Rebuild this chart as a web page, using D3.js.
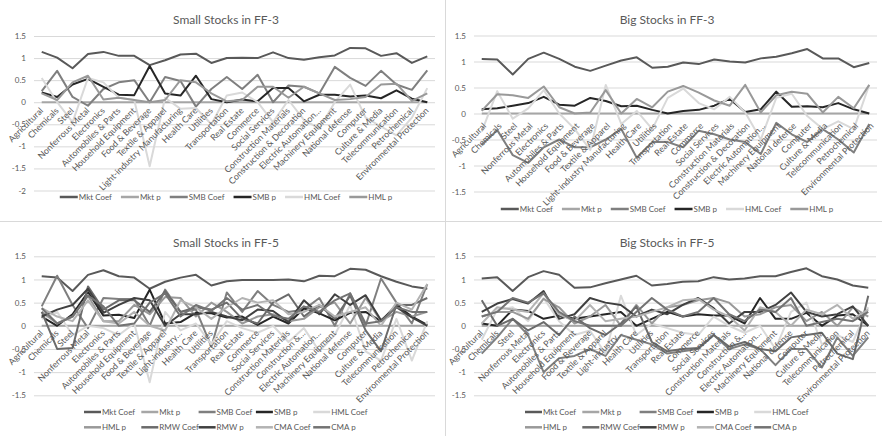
<!DOCTYPE html>
<html>
<head>
<meta charset="utf-8">
<script src="https://cdn.jsdelivr.net/npm/d3@7"></script>
<style>
  html, body { margin: 0; padding: 0; background: #fff; }
  svg { display: block; font-family: Lato, "Open Sans", sans-serif; }
</style>
</head>
<body>
<svg id="chart" width="882" height="436"></svg>
<script>
// ---------------- DATA ----------------
const categoriesFF3 = ["Agricultural","Chemicals","Steel","Nonferrous Metal","Electronics","Automobiles & Parts","Household Equipment","Food & Beverage","Textile & Apparel","Light-industry Manufacturing","Health Care","Utilities","Transportation","Real Estate","Commerce","Social Services","Construction Materials","Construction & Decoration","Electric Automation…","Machinery Equipment","National defense","Computer","Culture & Media","Telecommunication","Petrochemical","Environmental Protection"];
const categoriesFF5 = ["Agricultural","Chemicals","Steel","Nonferrous Metal","Electronics","Automobiles & Parts","Household Equipment","Food & Beverage","Textile & Apparel","Light-industry…","Health Care","Utilities","Transportation","Real Estate","Commerce","Social Services","Construction Materials","Construction &…","Electric Automation…","Machinery Equipment","National defense","Computer","Culture & Media","Telecommunication","Petrochemical","Environmental Protection"];

const seriesFF3 = ["Mkt Coef","Mkt p","SMB Coef","SMB p","HML Coef","HML p"];
const seriesFF5 = ["Mkt Coef","Mkt p","SMB Coef","SMB p","HML Coef","HML p","RMW Coef","RMW p","CMA Coef","CMA p"];

const ticksFF3Small = [-2,-1.5,-1,-0.5,0,0.5,1,1.5];
const ticksOther = [-1.5,-1,-0.5,0,0.5,1,1.5];

// Small stocks, FF-3
const s3_MktCoef = [1.14,1.01,0.77,1.09,1.14,1.05,1.05,0.84,0.95,1.08,1.10,0.89,1.00,1.01,1.00,1.13,1.00,0.96,1.02,1.06,1.23,1.22,1.05,1.11,0.89,1.04];
const s3_MktP    = [0,0,0,0,0,0,0,0,0,0,0,0,0,0,0,0,0,0,0,0,0,0,0,0,0,0];
const s3_SMBCoef = [0.25,0.71,0.12,-0.08,0.30,0.45,0.50,0.00,0.57,0.48,-0.10,0.30,0.57,0.30,0.62,0.00,0.38,0.35,0.20,0.80,0.55,0.37,0.71,0.40,0.28,0.72];
const s3_SMBP    = [0.22,0.12,0.40,0.53,0.35,0.17,0.16,0.82,0.20,0.15,0.60,0.07,0.00,0.06,0.02,0.32,0.32,0.02,0.17,0.17,0.13,0.15,0.09,0.27,0.08,0.00];
const s3_HMLCoef = [0.55,0.00,-0.45,0.55,0.45,0.10,0.05,-1.45,0.10,-0.15,-0.13,-0.50,0.15,0.22,0.00,-0.45,0.05,-0.40,-0.60,0.00,0.40,-0.35,-0.55,-0.75,-0.35,0.32];
const s3_HMLP    = [0.20,0.05,0.45,0.60,0.06,0.10,0.05,0.00,0.05,0.50,0.45,0.20,0.02,0.05,0.35,0.35,0.10,0.35,0.20,0.05,0.07,0.12,0.40,0.42,0.03,0.20];

// Big stocks, FF-3
const b3_MktCoef = [1.05,1.04,0.75,1.05,1.17,1.05,0.90,0.82,0.92,1.02,1.08,0.88,0.90,0.98,0.95,1.04,1.00,0.98,1.06,1.09,1.16,1.24,1.06,1.06,0.89,0.97];
const b3_MktP    = [0,0,0,0,0,0,0,0,0,0,0,0,0,0,0,0,0,0,0,0,0,0,0,0,0,0];
const b3_SMBCoef = [-0.60,-0.32,-0.80,-0.95,-0.65,-0.50,-0.65,-0.65,-0.50,-0.30,-0.85,-0.55,-0.55,-0.65,-0.33,-0.40,-0.50,-0.55,-0.78,-0.18,-0.40,-0.55,-0.30,-0.50,-0.75,-0.20];
const b3_SMBP    = [0.08,0.10,0.15,0.20,0.32,0.17,0.15,0.30,0.24,0.14,0.15,0.07,0.00,0.05,0.07,0.15,0.28,0.03,0.08,0.42,0.13,0.14,0.12,0.20,0.08,0.00];
const b3_HMLCoef = [-0.35,0.43,-0.10,0.10,0.45,0.00,-0.30,-0.70,0.55,-0.20,0.05,-0.30,0.30,0.48,0.20,0.08,0.32,0.02,-0.50,0.30,0.38,-0.05,-0.30,-0.15,-0.30,0.55];
const b3_HMLP    = [0.05,0.37,0.35,0.30,0.52,0.12,0.00,0.02,0.45,0.00,0.28,0.12,0.42,0.53,0.40,0.25,0.15,0.55,0.02,0.35,0.42,0.38,0.02,0.32,0.10,0.55];

// Small stocks, FF-5
const s5_MktCoef = [1.07,1.04,0.75,1.10,1.20,1.07,1.04,0.80,0.95,1.04,1.10,0.87,0.96,0.99,0.99,0.99,1.00,0.96,1.08,1.07,1.23,1.21,1.07,0.95,0.85,0.80];
const s5_MktP    = [0,0,0,0,0,0,0,0,0,0,0,0,0,0,0,0,0,0,0,0,0,0,0,0,0,0];
const s5_SMBCoef = [0.42,1.08,0.45,-0.05,0.60,0.58,0.58,0.00,0.78,0.30,0.35,-0.45,0.72,0.30,0.75,0.45,0.30,0.35,0.60,0.00,0.70,0.00,1.02,0.50,0.05,0.90];
const s5_SMBP    = [0.20,0.00,0.25,0.73,0.22,0.24,0.17,0.78,0.05,0.08,0.28,0.27,0.18,0.20,0.02,0.20,0.05,0.38,0.27,0.12,0.28,0.30,0.10,0.45,0.20,0.02];
const s5_HMLCoef = [0.15,0.30,-0.20,0.00,-0.05,-0.20,0.05,-1.22,0.30,-0.10,0.05,-0.40,0.10,-0.05,-0.15,0.00,-0.35,-0.05,-0.55,-0.20,0.45,-0.55,-0.75,0.15,-0.75,0.10];
const s5_HMLP    = [0.30,0.05,0.20,0.65,0.10,0.10,0.45,0.25,0.62,0.60,0.20,0.50,0.30,0.05,0.20,0.25,0.10,0.15,0.40,0.50,0.05,0.60,0.10,0.30,0.20,0.30];
const s5_RMWCoef = [0.30,-0.50,-0.48,0.85,0.35,0.55,0.55,0.30,0.75,0.30,0.40,0.35,0.50,0.15,0.05,0.50,0.68,0.20,0.45,0.15,0.65,-0.10,-0.55,0.45,0.45,0.60];
const s5_RMWP    = [0.20,0.35,0.45,0.80,0.28,0.45,0.60,0.55,0.00,0.25,0.25,0.30,0.20,0.12,0.35,0.32,0.08,0.55,0.25,0.68,0.45,0.66,0.12,0.40,0.18,0.00];
const s5_CMACoef = [0.38,0.20,0.10,0.55,0.10,0.05,0.30,0.00,-0.10,0.55,0.40,0.15,0.40,0.60,0.50,0.55,0.25,0.30,0.45,0.20,0.30,0.40,0.00,0.50,0.35,0.90];
const s5_CMAP    = [0.38,0.05,0.20,0.65,0.42,0.00,0.05,0.50,0.70,0.20,0.45,0.32,0.60,0.35,0.45,0.22,0.15,0.42,0.30,0.55,0.70,0.05,0.10,0.40,0.30,0.30];

// Big stocks, FF-5
const b5_MktCoef = [1.02,1.05,0.75,1.05,1.18,1.10,0.82,0.83,0.92,1.00,1.08,0.87,0.90,0.95,0.96,1.05,1.00,1.02,1.07,1.07,1.16,1.24,1.07,1.00,0.87,0.82];
const b5_MktP    = [0,0,0,0,0,0,0,0,0,0,0,0,0,0,0,0,0,0,0,0,0,0,0,0,0,0];
const b5_SMBCoef = [-0.60,-0.25,0.15,-0.20,-1.00,-0.70,-0.65,-0.50,-0.65,-0.20,-0.30,-0.40,-0.60,-0.55,-0.50,-0.20,-0.50,-0.40,-0.50,-0.85,-0.50,-0.50,-0.90,-0.25,-0.65,-0.25];
const b5_SMBP    = [0.05,0.00,0.35,0.32,0.15,0.22,0.15,0.20,0.25,0.30,0.00,0.15,0.30,0.20,0.25,0.22,0.22,0.05,0.60,0.15,0.15,0.28,0.00,0.22,0.25,0.00];
const b5_HMLCoef = [-0.30,0.35,0.40,0.10,0.60,0.10,-0.20,-0.10,-0.60,0.65,-0.20,0.05,-0.05,-0.15,-0.20,0.20,0.00,-0.15,0.00,-0.50,0.30,0.50,-0.40,-0.20,-0.35,0.40];
const b5_HMLP    = [0.20,0.30,0.30,0.15,0.58,0.40,0.05,0.20,0.45,0.00,0.45,0.05,0.40,0.45,0.55,0.60,0.50,0.20,0.25,0.40,0.45,0.10,0.30,0.00,0.40,0.20];
const b5_RMWCoef = [0.55,0.00,0.15,-0.10,0.08,-0.20,0.20,-0.05,-0.20,0.05,0.42,-0.35,-0.55,-0.50,-0.48,-0.20,-0.45,-0.35,-0.50,-0.55,-0.25,-0.20,-0.15,-0.60,-0.72,0.65];
const b5_RMWP    = [0.30,0.48,0.58,0.48,0.75,0.15,0.25,0.60,0.50,0.45,0.20,0.35,0.25,0.45,0.60,0.38,0.05,0.30,0.30,0.45,0.72,0.30,0.20,0.25,0.42,0.00];
const b5_CMACoef = [0.05,0.40,0.35,0.30,0.70,0.25,0.10,0.45,0.10,0.15,0.20,0.30,0.40,0.55,0.58,0.35,0.20,-0.10,0.40,0.30,0.00,0.35,0.25,0.45,0.15,0.35];
const b5_CMAP    = [0.20,0.30,0.60,0.50,0.70,0.30,0.10,0.00,0.00,0.00,0.30,0.60,0.35,0.20,0.30,0.60,0.25,0.10,0.35,0.30,0.60,0.00,0.08,0.15,0.10,0.30];

// ---------------- STYLE ----------------
const colorOf = {
  "Mkt Coef": "#595959", "Mkt p": "#a6a6a6", "SMB Coef": "#7f7f7f", "SMB p": "#262626",
  "HML Coef": "#d9d9d9", "HML p": "#999999", "RMW Coef": "#6b6b6b", "RMW p": "#404040",
  "CMA Coef": "#b3b3b3", "CMA p": "#737373"
};
const textColor = "#595959";
const gridColor = "#d9d9d9";
const FONT = "Lato, 'Open Sans', sans-serif";

const svg = d3.select("#chart");

// panel separators
svg.append("line").attr("x1", 445.5).attr("x2", 445.5).attr("y1", 0).attr("y2", 436)
   .attr("stroke", gridColor).attr("stroke-width", 1);
svg.append("line").attr("x1", 0).attr("x2", 882).attr("y1", 221.5).attr("y2", 221.5)
   .attr("stroke", gridColor).attr("stroke-width", 1);

const panels = [
  { title: "Small Stocks in FF-3", cats: categoriesFF3, names: seriesFF3, ticks: ticksFF3Small,
    data: [s3_MktCoef, s3_MktP, s3_SMBCoef, s3_SMBP, s3_HMLCoef, s3_HMLP],
    ox: 0, px0: 34, px1: 435, yTop: 36, yBot: 190.5, dom: [-2, 1.5], titleY: 24, legendY: 197, rows: 1, lblDx: 2, lblDy: 9 },
  { title: "Big Stocks in FF-3", cats: categoriesFF3, names: seriesFF3, ticks: ticksOther,
    data: [b3_MktCoef, b3_MktP, b3_SMBCoef, b3_SMBP, b3_HMLCoef, b3_HMLP],
    ox: 441, px0: 474, px1: 877, yTop: 35.5, yBot: 191.5, dom: [-1.5, 1.5], titleY: 24, legendY: 209, rows: 1, lblDx: 5, lblDy: 13 },
  { title: "Small Stocks in FF-5", cats: categoriesFF5, names: seriesFF5, ticks: ticksOther,
    data: [s5_MktCoef, s5_MktP, s5_SMBCoef, s5_SMBP, s5_HMLCoef, s5_HMLP, s5_RMWCoef, s5_RMWP, s5_CMACoef, s5_CMAP],
    ox: 0, px0: 34, px1: 435, yTop: 256.3, yBot: 395.3, dom: [-1.5, 1.5], titleY: 247, legendY: 412, rows: 2, lblDx: 2, lblDy: 8 },
  { title: "Big Stocks in FF-5", cats: categoriesFF5, names: seriesFF5, ticks: ticksOther,
    data: [b5_MktCoef, b5_MktP, b5_SMBCoef, b5_SMBP, b5_HMLCoef, b5_HMLP, b5_RMWCoef, b5_RMWP, b5_CMACoef, b5_CMAP],
    ox: 441, px0: 474, px1: 876, yTop: 256.3, yBot: 395.3, dom: [-1.5, 1.5], titleY: 247, legendY: 412, rows: 2, lblDx: 2, lblDy: 8 }
];

panels.forEach(p => {
  const g = svg.append("g");
  const x = d3.scaleBand().domain(p.cats).range([p.px0, p.px1]);
  const y = d3.scaleLinear().domain(p.dom).range([p.yBot, p.yTop]);
  const cx = c => x(c) + x.bandwidth() / 2;

  // title
  g.append("text").attr("x", p.ox + 226).attr("y", p.titleY).attr("text-anchor", "middle")
   .attr("font-size", 12).attr("fill", textColor).text(p.title);

  // gridlines + y labels
  const yAxis = g.append("g").attr("transform", `translate(${p.px0},0)`)
    .call(d3.axisLeft(y).tickValues(p.ticks).tickSize(-(p.px1 - p.px0)).tickPadding(8)
      .tickFormat(d => String(d)));
  yAxis.select(".domain").remove();
  yAxis.selectAll(".tick line").attr("stroke", gridColor).attr("stroke-width", 1);
  yAxis.selectAll(".tick text").attr("fill", textColor).attr("font-size", 8)
    .attr("font-family", FONT);

  // series lines
  const line = d3.line().x((d, i) => cx(p.cats[i])).y(d => y(d));
  p.names.forEach((name, k) => {
    g.append("path").datum(p.data[k]).attr("d", line).attr("fill", "none")
     .attr("stroke", colorOf[name]).attr("stroke-width", 2).attr("stroke-linejoin", "round");
  });

  // category labels
  const xAxis = g.append("g").attr("transform", `translate(0,${y(0)})`)
    .call(d3.axisBottom(x).tickSize(0));
  xAxis.select(".domain").remove();
  xAxis.selectAll(".tick text")
    .attr("fill", textColor).attr("font-size", 8.8).attr("font-family", FONT)
    .attr("text-anchor", "end").attr("x", 0).attr("y", 0).attr("dy", 0)
    .attr("transform", `translate(${p.lblDx},${p.lblDy}) rotate(-45)`);

  // legend
  const lg = g.append("g");
  if (p.rows === 1) {
    const lineLen = 18, gap = 9;
    let cur = 0;
    p.names.forEach(name => {
      const it = lg.append("g");
      it.append("line").attr("x1", 0).attr("x2", lineLen).attr("y1", 0).attr("y2", 0)
        .attr("stroke", colorOf[name]).attr("stroke-width", 2.5);
      const t = it.append("text").attr("x", lineLen + 1).attr("y", 3).attr("font-size", 8)
        .attr("fill", textColor).text(name);
      const w = lineLen + 1 + t.node().getComputedTextLength();
      it.attr("transform", `translate(${cur},${p.legendY})`);
      cur += w + gap;
    });
    const total = cur - gap;
    lg.attr("transform", `translate(${p.ox + 226 - total / 2},0)`);
  } else {
    const colW = 57.3;
    p.names.forEach((name, k) => {
      const row = Math.floor(k / 5), col = k % 5;
      const it = lg.append("g").attr("transform", `translate(${p.ox + 84 + col * colW},${p.legendY + row * 15.3})`);
      it.append("line").attr("x1", 0).attr("x2", 17).attr("y1", 0).attr("y2", 0)
        .attr("stroke", colorOf[name]).attr("stroke-width", 2.5);
      it.append("text").attr("x", 18).attr("y", 3).attr("font-size", 8)
        .attr("fill", textColor).text(name);
    });
  }
});
</script>
</body>
</html>
